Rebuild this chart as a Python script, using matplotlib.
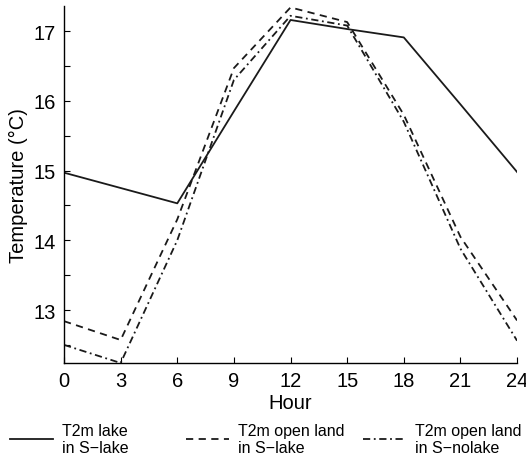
import matplotlib
matplotlib.use("Agg")
import matplotlib.pyplot as plt
from matplotlib.ticker import MultipleLocator

plt.rcParams['font.family'] = ['Liberation Sans', 'DejaVu Sans']

hours = [0, 3, 6, 9, 12, 15, 18, 21, 24]
t2m_lake = [14.97, 14.75, 14.53, 15.85, 17.16, 17.03, 16.91, 15.95, 14.98]
t2m_open_lake = [12.84, 12.57, 14.3, 16.47, 17.34, 17.13, 15.8, 14.05, 12.85]
t2m_open_nolake = [12.5, 12.24, 14.0, 16.3, 17.22, 17.08, 15.7, 13.88, 12.56]
labels = ["T2m lake\nin S\u2212lake", "T2m open land\nin S\u2212lake", "T2m open land\nin S\u2212nolake"]

fig = plt.figure(figsize=(5.26, 4.60), dpi=100)
ax = fig.add_axes([0.1217, 0.2087, 0.8613, 0.776])

lw = 1.3
l1, = ax.plot(hours, t2m_lake, color='#1a1a1a', lw=lw, linestyle='-')
l2, = ax.plot(hours, t2m_open_lake, color='#1a1a1a', lw=lw, linestyle=(0, (4, 3)))
l3, = ax.plot(hours, t2m_open_nolake, color='#1a1a1a', lw=lw, linestyle=(0, (4, 2, 1, 2)))

ax.set_xlim(0, 24)
ax.set_ylim(12.24, 17.36)
ax.set_xticks(hours)
ax.yaxis.set_major_locator(MultipleLocator(1))
ax.yaxis.set_minor_locator(MultipleLocator(0.5))
ax.tick_params(axis='both', which='both', direction='in', length=4, width=0.8, labelsize=14.5, pad=6)
for s in ['top', 'right']:
    ax.spines[s].set_visible(False)
for s in ['left', 'bottom']:
    ax.spines[s].set_linewidth(1.0)

ax.set_xlabel('Hour', fontsize=14.5, labelpad=2)
ax.set_ylabel('Temperature (\u00b0C)', fontsize=14.5, labelpad=4)

x_starts = [10, 186, 363]
for handle, lab, xs in zip([l1, l2, l3], labels, x_starts):
    fig.legend([handle], [lab], loc='center left', bbox_to_anchor=(xs / 526, 0.0435),
               frameon=False, fontsize=11.5, handlelength=2.7, handletextpad=0.55,
               borderpad=0, borderaxespad=0, labelspacing=0)

fig.savefig('out.png', dpi=100)
